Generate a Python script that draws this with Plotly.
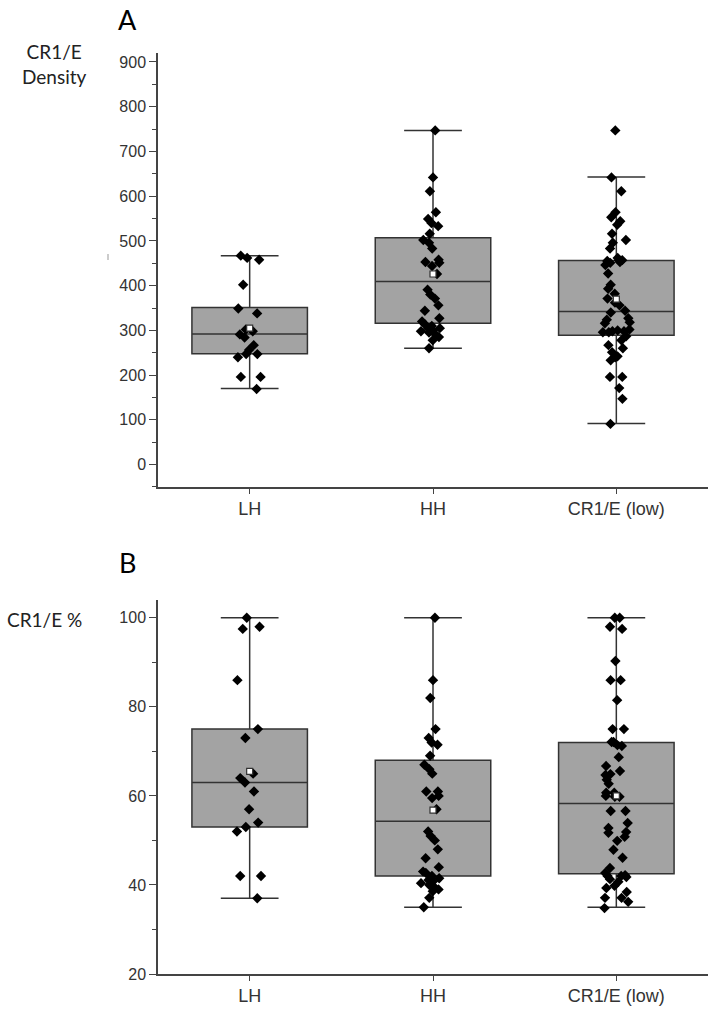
import plotly.graph_objects as go

categories = ["LH", "HH", "CR1/E (low)"]

# Panel A: CR1/E density
A_q1 = [248, 316, 289]
A_median = [292, 409, 342]
A_q3 = [351, 507, 456]
A_low = [170, 260, 92]
A_high = [467, 747, 643]
A_mean = [305, 426, 370]
A_LH = [467, 462, 458, 402, 349, 338, 302, 298, 291, 284, 267, 256, 247, 240, 247, 196, 196, 169]
A_HH = [747, 642, 611, 564, 540, 549, 533, 516, 502, 496, 483, 451, 458, 444, 453, 426, 391, 380,
        371, 356, 344, 327, 313, 320, 304, 298, 300, 293, 278, 260, 305, 295, 310, 285]
A_CR = [747, 642, 611, 564, 553, 544, 536, 516, 502, 496, 483, 455, 446, 457, 457, 462, 453, 451,
        427, 402, 393, 382, 371, 362, 356, 344, 340, 324, 327, 318, 316, 298, 296, 300, 296, 298,
        302, 287, 278, 260, 267, 251, 242, 240, 233, 196, 196, 171, 147, 91]

# Panel B: CR1/E %
B_q1 = [53, 42, 42.5]
B_median = [63, 54.3, 58.3]
B_q3 = [75, 68, 72]
B_low = [37, 35, 35]
B_high = [100, 100, 100]
B_mean = [65.5, 56.8, 60]
B_LH = [100, 98, 97.5, 86, 75, 73, 65, 64, 63, 61, 57, 54, 52, 53, 42, 42, 37]
B_HH = [100, 86, 82, 75, 73, 72, 71.5, 69, 67, 66, 65, 61, 59.5, 60, 61, 57, 52, 51, 50, 48, 46,
        44, 42, 42.7, 41.1, 40.4, 40, 39.5, 38.6, 37.1, 35, 43, 41.5, 40.8, 39]
B_CR = [100, 100, 97.5, 98, 90.3, 86, 86, 81.5, 75, 75, 71.4, 72.1, 71.2, 72.1, 68.7, 66.7, 65.6,
        64.7, 64.9, 63.6, 62.7, 60.7, 59.8, 60.7, 60, 59.8, 56.6, 56.6, 53.9, 52.8, 51.7, 50.8, 51.9,
        49.9, 47.9, 46.1, 43.8, 42.7, 42, 42.2, 41.3, 41.8, 40.7, 42, 39.8, 39.3, 38.4, 37.1, 37.1,
        36.2, 34.8]

pos = [0, 1, 2]
BOXW = 0.63
BOX_FILL = "#a3a3a3"
LINE = "#333333"
AX = "#444444"
TICKFONT = dict(family="Arial, Liberation Sans, sans-serif", size=16, color="#333333")
XFONT = dict(family="Arial, Liberation Sans, sans-serif", size=18, color="#333333")

fig = go.Figure()


def add_panel(xa, ya, q1, med, q3, lo, hi, mean, groups):
    fig.add_trace(go.Box(
        x=pos, q1=q1, median=med, q3=q3, lowerfence=lo, upperfence=hi,
        width=BOXW, whiskerwidth=0.5, fillcolor=BOX_FILL,
        line=dict(color=LINE, width=1.5), boxpoints=False,
        xaxis=xa, yaxis=ya, hoverinfo="skip", showlegend=False))
    xs, ys = [], []
    for i, g in enumerate(groups):
        xs += [pos[i]] * len(g)
        ys += g
    fig.add_trace(go.Box(
        x=xs, y=ys, width=BOXW, boxpoints="all", jitter=0.28, pointpos=0,
        fillcolor="rgba(0,0,0,0)", line=dict(color="rgba(0,0,0,0)", width=0),
        marker=dict(symbol="diamond", size=8, color="black"),
        xaxis=xa, yaxis=ya, hoverinfo="skip", showlegend=False))
    fig.add_trace(go.Scatter(
        x=pos, y=mean, mode="markers",
        marker=dict(symbol="square", size=6, color="white", line=dict(color=LINE, width=1.2)),
        xaxis=xa, yaxis=ya, hoverinfo="skip", showlegend=False))


add_panel("x", "y", A_q1, A_median, A_q3, A_low, A_high, A_mean, [A_LH, A_HH, A_CR])
add_panel("x2", "y2", B_q1, B_median, B_q3, B_low, B_high, B_mean, [B_LH, B_HH, B_CR])

xcommon = dict(range=[-0.5, 2.5], tickvals=pos, ticktext=categories, showline=True,
               linecolor=AX, linewidth=1.5, ticks="outside", ticklen=5, tickcolor=AX,
               showgrid=False, zeroline=False, tickfont=XFONT, domain=[0, 1])
ycommon = dict(showline=True, linecolor=AX, linewidth=1.5, ticks="outside", ticklen=7,
               tickcolor=AX, showgrid=False, zeroline=False, tickfont=TICKFONT)

fig.update_layout(
    width=714, height=1011,
    margin=dict(l=158, r=6, t=53, b=37),
    paper_bgcolor="white", plot_bgcolor="white",
    boxmode="overlay",
    hovermode=False,
    xaxis=dict(**xcommon, anchor="y"),
    yaxis=dict(**ycommon, domain=[0.5288, 1], range=[-50, 920], tick0=0, dtick=100,
               minor=dict(dtick=50, tick0=0, ticks="outside", ticklen=4, tickcolor=AX, showgrid=False),
               anchor="x"),
    xaxis2=dict(**xcommon, anchor="y2"),
    yaxis2=dict(**ycommon, domain=[0, 0.4061], range=[20, 104], tick0=20, dtick=20,
                minor=dict(dtick=10, tick0=0, ticks="outside", ticklen=4, tickcolor=AX, showgrid=False),
                anchor="x2"),
)

# helpers: reference-pixel -> paper coordinates (plot area x 158..708, paper y 53..974)
def px(x):
    return (x - 158) / 550


def py(y):
    return (974 - y) / 921


LABELFONT = dict(family="Lato, Open Sans, sans-serif", size=19, color="#222222")
BIGFONT = dict(family="Lato, Open Sans, sans-serif", size=27, color="black")
common_ann = dict(xref="paper", yref="paper", showarrow=False, xanchor="center", yanchor="middle",
                  borderpad=0)
fig.add_annotation(text="A", x=px(127), y=py(20), font=BIGFONT, **common_ann)
fig.add_annotation(text="B", x=px(127), y=py(562), font=BIGFONT, **common_ann)
fig.add_annotation(text="CR1/E<br>Density", x=px(54), y=py(64), align="center", font=LABELFONT,
                   **common_ann)
fig.add_annotation(text="CR1/E %", x=px(44), y=py(619), font=LABELFONT, **common_ann)
# small stray mark left of the panel A axis
fig.add_shape(type="line", xref="paper", yref="paper", x0=px(108), x1=px(108),
              y0=py(254), y1=py(260), line=dict(color="#999999", width=1))

# remove the browser's default 8px body margin so the figure sits at the page origin
fig.write_html("out.html", config={"displayModeBar": False},
               post_script="document.body.style.margin='0';")
